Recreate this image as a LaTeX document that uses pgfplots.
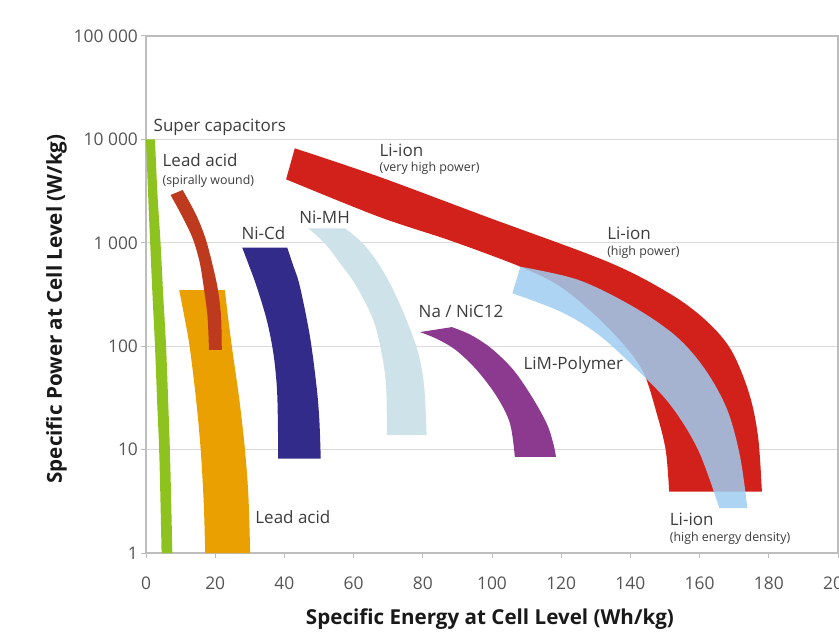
\documentclass[border=0pt]{standalone}
\usepackage{fontspec}
\setmainfont{Open Sans}
\usepackage{pgfplots}
\pgfplotsset{compat=1.18}
\usepgfplotslibrary{fillbetween}
\definecolor{capgreen}{HTML}{8DC21F}
\definecolor{leadred}{HTML}{BD3A1F}
\definecolor{leadorange}{HTML}{E9A000}
\definecolor{nicd}{HTML}{332B8A}
\definecolor{nimh}{HTML}{CEE2E9}
\definecolor{nana}{HTML}{8B3A8F}
\definecolor{liion}{HTML}{D2211A}
\definecolor{poly}{HTML}{9FCDF0}
\definecolor{gridgray}{HTML}{DADADA}
\definecolor{axisgray}{HTML}{BDBDBD}
\definecolor{tickgray}{HTML}{555555}
\definecolor{labgray}{HTML}{3C3C3C}
\newcommand\lbl{\fontsize{8.5}{10}\selectfont}
\newcommand\sml{\fontsize{6.2}{7}\selectfont}
\tikzset{
  lab/.style={anchor=base west, inner sep=0pt, font=\lbl, text=labgray},
  sm/.style={anchor=base west, inner sep=0pt, font=\sml, text=labgray},
}
\begin{document}
\begin{tikzpicture}
\begin{axis}[
  at={(73pt,40pt)}, anchor=south west,
  width=346pt, height=258.5pt, scale only axis,
  xmin=0, xmax=200, ymin=1, ymax=100000, ymode=log, log basis y=10,
  xtick={0,20,40,60,80,100,120,140,160,180,200},
  xticklabels={0,20,40,60,80,100,120,140,160,180,200},
  ytick={1,10,100,1000,10000,100000},
  yticklabels={1,10,100,1 000,10 000,100 000},
  yminorticks=false,
  xtick pos=bottom, ytick pos=left, tick align=outside,
  major tick length=2.5pt,
  ymajorgrids, grid style={color=gridgray, line width=0.5pt},
  axis line style={color=axisgray, line width=0.7pt},
  tick style={color=axisgray, line width=0.5pt},
  ticklabel style={font=\fontsize{8.7}{9}\selectfont, text=tickgray},
  xticklabel style={yshift=-6pt},
  yticklabel style={xshift=2pt},
  xlabel={Specific Energy at Cell Level (Wh/kg)},
  ylabel={Specific Power at Cell Level (W/kg)},
  label style={font=\bfseries\fontsize{10.3}{12}\selectfont, text=black!90},
  xlabel style={at={(axis description cs:0.497,-0.139)}, anchor=base},
  ylabel style={at={(axis description cs:-0.1214,0.472)}, anchor=base},
  edge/.style={draw=none, smooth, tension=0.55, forget plot},
]
% Super capacitors
\addplot[edge, name path=capA] coordinates {(0,10000) (0.6,3000) (1.2,1000) (1.9,300) (2.6,100) (3.2,30) (3.8,10) (4.2,3) (4.5,1)};
\addplot[edge, name path=capB] coordinates {(2.6,10000) (3.3,3000) (4.2,1000) (5.0,300) (5.8,100) (6.4,30) (6.9,10) (7.3,3) (7.6,1)};
\addplot[fill=capgreen, draw=none] fill between[of=capA and capB];
% Lead acid
\addplot[edge, name path=laA] coordinates {(9.6,349) (11.0,200) (12.6,100) (14.5,30) (15.8,10) (16.7,3) (17.1,1)};
\addplot[edge, name path=laB] coordinates {(22.8,349) (23.8,180) (25.2,80) (27.0,30) (28.6,10) (29.6,3.5) (30.1,1)};
\addplot[fill=leadorange, draw=none] fill between[of=laA and laB];
% Lead acid (spirally wound)
\addplot[edge, name path=swA] coordinates {(10.6,3240) (14.5,1860) (17.2,1100) (19.3,600) (20.8,349) (21.7,190) (21.9,92)};
\addplot[edge, name path=swB] coordinates {(7.1,2900) (10.7,1740) (13.5,1100) (15.5,650) (16.8,349) (17.8,190) (18.2,92)};
\addplot[fill=leadred, draw=none] fill between[of=swA and swB];
% Ni-Cd
\addplot[edge, name path=cdA] coordinates {(27.8,900) (29.8,600) (32.0,376) (34.9,179) (36.8,86) (37.8,41) (38.1,20) (38.2,8.2)};
\addplot[edge, name path=cdB] coordinates {(40.8,900) (42.5,610) (44.5,376) (47.4,123) (49.3,40.6) (50.1,19.3) (50.5,8.2)};
\addplot[fill=nicd, draw=none] fill between[of=cdA and cdB];
% Ni-MH
\addplot[edge, name path=mhA] coordinates {(46.9,1380) (51.5,1000) (56.0,640) (60.9,376) (65.7,179) (68.1,85.6) (69.4,40.6) (69.6,13.8)};
\addplot[edge, name path=mhB] coordinates {(57.5,1380) (62.5,1000) (67.0,640) (71.0,376) (75.3,179) (78.7,85.6) (80.4,40.6) (81.1,13.8)};
\addplot[fill=nimh, draw=none] fill between[of=mhA and mhB];
% Na / NiCl2
\addplot[edge, name path=naA] coordinates {(88.4,153) (94.0,128) (100.0,94) (106.2,58.8) (111.5,32.5) (115.8,17.9) (117.7,11.5) (118.5,8.5)};
\addplot[edge, name path=naB] coordinates {(79.2,137) (84.0,118) (89.5,92) (95.6,58.8) (101.4,32.5) (105.2,17.9) (106.6,8.5)};
\addplot[fill=nana, draw=none] fill between[of=naA and naB];
% Li-ion
\addplot[edge, name path=liA] coordinates {(43.0,8200) (67.3,4360) (98.8,1765) (133.4,656) (151.2,325) (161.7,179) (169.1,91.9) (174.3,35) (176.9,13.3) (178.0,3.92)};
\addplot[edge, name path=liB] coordinates {(40.5,4110) (67.3,1786) (88.0,1050) (108.2,587) (119.8,376) (130.3,193) (138.6,98.9) (143.9,54.7) (147.6,22.4) (150.2,9.9) (151.2,3.92)};
\addplot[fill=liion, draw=none] fill between[of=liA and liB];
% LiM-Polymer
\addplot[edge, name path=poA] coordinates {(108.2,587) (125.0,437) (140.8,241) (153.3,124) (161.7,58.9) (168.0,24.2) (171.7,8.54) (173.8,2.71)};
\addplot[edge, name path=poB] coordinates {(105.9,325) (119.8,216) (130.3,133) (140.0,68.3) (151.2,28.0) (159.6,9.9) (165.7,2.71)};
\addplot[fill=poly, fill opacity=0.85, draw=none] fill between[of=poA and poB];
\node[lab] at (axis cs:2.1,11800) {Super capacitors};
\node[lab] at (axis cs:4.7,5445) {Lead acid};
\node[sm] at (axis cs:4.7,3700) {(spirally wound)};
\node[lab] at (axis cs:27.5,1088) {Ni-Cd};
\node[lab] at (axis cs:44.2,1544) {Ni-MH};
\node[lab] at (axis cs:67.4,6906) {Li-ion};
\node[sm] at (axis cs:67.4,4870) {(very high power)};
\node[lab] at (axis cs:133.2,1081) {Li-ion};
\node[sm] at (axis cs:133.2,762) {(high power)};
\node[lab] at (axis cs:78.7,191) {Na / NiC12};
\node[lab] at (axis cs:109.0,58.9) {LiM-Polymer};
\node[lab] at (axis cs:31.5,1.91) {Lead acid};
\node[lab] at (axis cs:151.3,1.84) {Li-ion};
\node[sm] at (axis cs:151.3,1.286) {(high energy density)};
\end{axis}
\pgfresetboundingbox
\useasboundingbox (0,0) rectangle (419.5pt,316.5pt);
\end{tikzpicture}
\end{document}
